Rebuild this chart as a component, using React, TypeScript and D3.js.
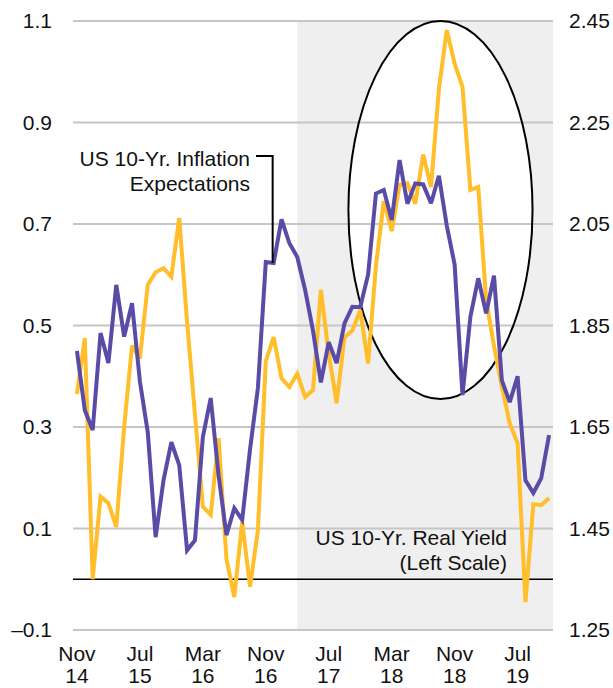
import React from "react";
import * as d3 from "d3";

// Monthly, Nov 2014 .. Nov 2019 (61 months)

// US 10-Yr. Real Yield (left scale, %)
const realYield = [
  0.365, 0.475, 0.0, 0.163, 0.15, 0.103, 0.3, 0.46, 0.435, 0.58,
  0.605, 0.613, 0.596, 0.712, 0.507, 0.325, 0.143, 0.127, 0.278, 0.04,
  -0.035, 0.113, -0.015, 0.097, 0.43, 0.477, 0.396, 0.379, 0.405, 0.359,
  0.373, 0.57, 0.445, 0.347, 0.477, 0.49, 0.53, 0.425, 0.618, 0.745,
  0.686, 0.777, 0.78, 0.74, 0.837, 0.773, 0.966, 1.082, 1.016, 0.97,
  0.767, 0.773, 0.55, 0.46, 0.38, 0.307, 0.268, -0.045, 0.148, 0.146,
  0.16,
];

// US 10-Yr. Inflation Expectations (right scale, %)
const inflationExp = [
  1.8, 1.683, 1.644, 1.835, 1.776, 1.93, 1.828, 1.894, 1.74, 1.64,
  1.433, 1.545, 1.62, 1.575, 1.407, 1.427, 1.63, 1.707, 1.555, 1.437,
  1.49, 1.467, 1.606, 1.727, 1.975, 1.973, 2.059, 2.012, 1.985, 1.92,
  1.84, 1.738, 1.817, 1.776, 1.854, 1.887, 1.886, 1.95, 2.11, 2.117,
  2.058, 2.176, 2.09, 2.13, 2.128, 2.091, 2.145, 2.047, 1.97, 1.713,
  1.867, 1.943, 1.874, 1.948, 1.742, 1.699, 1.75, 1.545, 1.52, 1.549,
  1.634,
];

const leftTicks = [-0.1, 0.1, 0.3, 0.5, 0.7, 0.9, 1.1];
const rightTicks = [1.25, 1.45, 1.65, 1.85, 2.05, 2.25, 2.45];
const xTickIndex = [0, 8, 16, 24, 32, 40, 48, 56];
const xTickMonth = ["Nov", "Jul", "Mar", "Nov", "Jul", "Mar", "Nov", "Jul"];
const xTickYear = ["14", "15", "16", "16", "17", "18", "18", "19"];

const shadeStartIndex = 28; // Mar 2017
const ellipseRange = [34.5, 57.9]; // month indices spanned by the ellipse
const ellipseValues = [1.1, 0.355]; // left-scale top / bottom of the ellipse

const W = 613;
const H = 688;
const plot = { left: 73, right: 553, top: 21, bottom: 630 };

const ORANGE = "#FFBE2A";
const PURPLE = "#5A4BA7";
const FONT = "'Liberation Sans', Arial, Helvetica, sans-serif";
const FS = 21;

export default function App() {
  const n = realYield.length;
  const x = d3
    .scaleLinear()
    .domain([-0.5, n - 0.5])
    .range([plot.left, plot.right]);
  const yL = d3.scaleLinear().domain([-0.1, 1.1]).range([plot.bottom, plot.top]);
  const yR = d3.scaleLinear().domain([1.25, 2.45]).range([plot.bottom, plot.top]);

  const lineL = d3
    .line<number>()
    .x((_, i) => x(i))
    .y((d) => yL(d));
  const lineR = d3
    .line<number>()
    .x((_, i) => x(i))
    .y((d) => yR(d));

  const shadeX = x(shadeStartIndex);
  const ex0 = x(ellipseRange[0]);
  const ex1 = x(ellipseRange[1]);
  const ey0 = yL(ellipseValues[0]);
  const ey1 = yL(ellipseValues[1]);
  const ecx = (ex0 + ex1) / 2;
  const ecy = (ey0 + ey1) / 2;
  const erx = (ex1 - ex0) / 2;
  const ery = (ey1 - ey0) / 2;

  // annotation leader
  const annIdx = 25;
  const annX = x(annIdx);
  const annY = yR(inflationExp[annIdx]);
  const annTopY = 156;

  return (
    <svg
      width={W}
      height={H}
      style={{ position: "absolute", left: 0, top: 0, background: "#fff" }}
      fontFamily={FONT}
    >
      <rect
        x={shadeX}
        y={plot.top}
        width={plot.right - shadeX}
        height={plot.bottom - plot.top}
        fill="#EFEFEF"
      />
      <ellipse cx={ecx} cy={ecy} rx={erx} ry={ery} fill="#fff" stroke="none" />
      {leftTicks.map((t) => (
        <line
          key={"g" + t}
          x1={plot.left}
          x2={plot.right}
          y1={yL(t)}
          y2={yL(t)}
          stroke="#C6C6C6"
          strokeWidth={2}
        />
      ))}
      <line
        x1={plot.left}
        x2={plot.right}
        y1={yL(0)}
        y2={yL(0)}
        stroke="#000"
        strokeWidth={1.6}
      />
      <ellipse
        cx={ecx}
        cy={ecy}
        rx={erx}
        ry={ery}
        fill="none"
        stroke="#000"
        strokeWidth={2}
      />
      <path
        d={lineL(realYield) || ""}
        fill="none"
        stroke={ORANGE}
        strokeWidth={4}
        strokeLinejoin="miter"
        strokeMiterlimit={3}
      />
      <path
        d={lineR(inflationExp) || ""}
        fill="none"
        stroke={PURPLE}
        strokeWidth={4}
        strokeLinejoin="miter"
        strokeMiterlimit={3}
      />
      {leftTicks.map((t) => (
        <text
          key={"l" + t}
          x={52}
          y={yL(t)}
          dy="0.35em"
          textAnchor="end"
          fontSize={FS}
          fill="#111"
        >
          {t < 0 ? "\u2013" + Math.abs(t).toFixed(1) : t.toFixed(1)}
        </text>
      ))}
      {rightTicks.map((t) => (
        <text
          key={"r" + t}
          x={569}
          y={yR(t)}
          dy="0.35em"
          textAnchor="start"
          fontSize={FS}
          fill="#111"
        >
          {t.toFixed(2)}
        </text>
      ))}
      {xTickIndex.map((idx, k) => (
        <g key={"x" + idx}>
          <text x={x(idx)} y={661} textAnchor="middle" fontSize={FS} fill="#111">
            {xTickMonth[k]}
          </text>
          <text x={x(idx)} y={683} textAnchor="middle" fontSize={FS} fill="#111">
            {xTickYear[k]}
          </text>
        </g>
      ))}
      <text x={250} y={166} textAnchor="end" fontSize={FS} fill="#111">
        US 10-Yr. Inflation
      </text>
      <text x={250} y={191} textAnchor="end" fontSize={FS} fill="#111">
        Expectations
      </text>
      <polyline
        points={`${256},${annTopY} ${annX - 1},${annTopY} ${annX - 1},${annY}`}
        fill="none"
        stroke="#000"
        strokeWidth={2}
      />
      <text x={507} y={545} textAnchor="end" fontSize={FS} fill="#111">
        US 10-Yr. Real Yield
      </text>
      <text x={507} y={570} textAnchor="end" fontSize={FS} fill="#111">
        (Left Scale)
      </text>
    </svg>
  );
}
